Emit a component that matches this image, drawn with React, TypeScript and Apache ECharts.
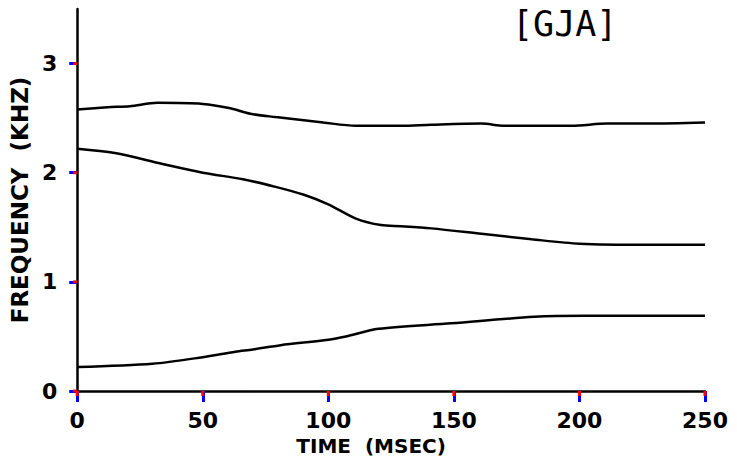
import React, { useEffect, useRef } from "react";
import * as echarts from "echarts";

const f3Time = [0, 12, 21, 32, 50, 61, 69, 79, 98, 111, 121, 129, 141, 161, 170, 185, 197, 211, 227, 250];
const f3Vals = [2.58, 2.60, 2.61, 2.64, 2.63, 2.59, 2.54, 2.51, 2.46, 2.43, 2.43, 2.43, 2.44, 2.45, 2.43, 2.43, 2.43, 2.45, 2.45, 2.46];

const f2Time = [0, 15, 34, 50, 66, 79, 90, 100, 111, 121, 129, 141, 161, 181, 200, 227, 250];
const f2Vals = [2.22, 2.18, 2.08, 2.0, 1.94, 1.87, 1.80, 1.71, 1.58, 1.52, 1.51, 1.49, 1.44, 1.39, 1.35, 1.34, 1.34];

const f1Time = [0, 30, 50, 63, 70, 81, 100, 107, 120, 149, 182, 202, 250];
const f1Vals = [0.22, 0.25, 0.31, 0.36, 0.38, 0.42, 0.47, 0.50, 0.57, 0.62, 0.68, 0.69, 0.69];

const xTicks = [0, 50, 100, 150, 200, 250];
const yTicks = [0, 1, 2, 3];

const titleText = "[GJA]";
const xName = "TIME  (MSEC)";
const yName = "FREQUENCY  (KHZ)";

const zip = (xs: number[], ys: number[]) => xs.map((x, i) => [x, ys[i]]);

export default function App() {
  const ref = useRef<HTMLDivElement>(null);
  useEffect(() => {
    document.body.style.margin = "0";
    const chart = echarts.init(ref.current!, null, { renderer: "svg" });
    const labelFont = {
      fontFamily: "DejaVu Sans",
      fontWeight: "bold" as const,
      fontSize: 22,
      color: "#000",
    };
    const lineSeries = (data: number[][]) => ({
      type: "line",
      data,
      smooth: 0.3,
      showSymbol: false,
      symbol: "none",
      lineStyle: { color: "#000", width: 2.5 },
    });
    chart.setOption({
      animation: false,
      title: {
        text: titleText,
        left: 507,
        top: 1,
        textStyle: { fontFamily: "DejaVu Sans Mono", fontWeight: "normal", fontSize: 35, color: "#000" },
      },
      grid: { left: 73, right: 32, top: 9, bottom: 70 },
      xAxis: {
        type: "value",
        min: 0,
        max: 250,
        interval: 50,
        name: xName,
        nameLocation: "middle",
        nameGap: 40,
        nameTextStyle: { ...labelFont, fontSize: 20, padding: [0, 40, 0, 0] },
        axisLine: { show: true, lineStyle: { color: "#000", width: 2.5 } },
        axisTick: { show: true, length: 11, lineStyle: { color: "blue", width: 3 }, customValues: xTicks },
        axisLabel: { ...labelFont, margin: 18, customValues: xTicks },
        splitLine: { show: false },
      },
      yAxis: {
        type: "value",
        min: 0,
        max: 3.5,
        interval: 1,
        name: yName,
        nameLocation: "middle",
        nameGap: 34,
        nameTextStyle: { ...labelFont, fontSize: 23, padding: [0, 0, 0, 0] },
        axisLine: { show: true, lineStyle: { color: "#000", width: 2.5 } },
        axisTick: { show: true, length: 8, lineStyle: { color: "blue", width: 3 }, customValues: yTicks },
        axisLabel: { ...labelFont, margin: 20, customValues: yTicks },
        splitLine: { show: false },
      },
      series: [lineSeries(zip(f3Time, f3Vals)), lineSeries(zip(f2Time, f2Vals)), lineSeries(zip(f1Time, f1Vals))],
    });
    const tickStyle = { stroke: "red", lineWidth: 3 };
    const graphics: any[] = [];
    xTicks.forEach((v) => {
      const p = chart.convertToPixel({ gridIndex: 0 }, [v, 0]) as number[];
      if (p) graphics.push({ type: "line", z: 100, silent: true, shape: { x1: p[0], y1: p[1], x2: p[0], y2: p[1] + 5 }, style: tickStyle });
    });
    yTicks.forEach((v) => {
      const p = chart.convertToPixel({ gridIndex: 0 }, [0, v]) as number[];
      if (p) graphics.push({ type: "line", z: 100, silent: true, shape: { x1: p[0] - 4, y1: p[1], x2: p[0], y2: p[1] }, style: tickStyle });
    });
    chart.setOption({ graphic: graphics });
    return () => chart.dispose();
  }, []);
  return <div ref={ref} style={{ width: 737, height: 461 }} />;
}
